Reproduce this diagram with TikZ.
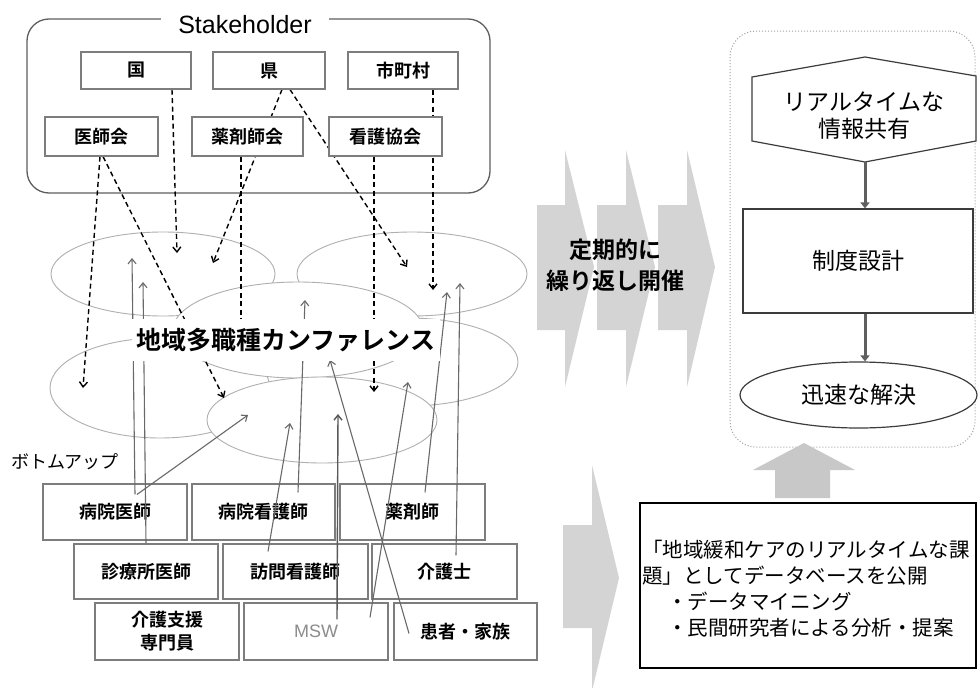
\documentclass[tikz,border=0pt]{standalone}
\usepackage{fontspec}
\setmainfont{Liberation Sans}
\newfontfamily\jp{Noto Sans CJK JP}[BoldFont={Noto Sans CJK JP Bold}]
\usetikzlibrary{arrows.meta,shapes.geometric}
\pgfdeclarelayer{back}
\pgfdeclarelayer{lines}
\pgfsetlayers{back,lines,main}
\definecolor{boxgray}{RGB}{125,125,125}
\definecolor{framegray}{RGB}{95,95,95}
\definecolor{ellgray}{RGB}{175,175,175}
\definecolor{arrgray}{RGB}{105,105,105}
\definecolor{chevgray}{RGB}{212,212,212}
\definecolor{upgray}{RGB}{200,200,200}
\definecolor{flowgray}{RGB}{60,60,60}
\definecolor{flowarrow}{RGB}{95,95,95}
\definecolor{dotgray}{RGB}{160,160,160}
\definecolor{mswgray}{RGB}{140,140,140}
\tikzset{
  sbox/.style={draw=boxgray, line width=1.1pt, fill=white, inner sep=0pt,
    font=\jp\bfseries\fontsize{18}{20}\selectfont},
  bbox/.style={draw=boxgray, line width=1.1pt, fill=white, inner sep=0pt, align=center,
    minimum width=144pt, font=\jp\bfseries\fontsize{18}{23}\selectfont},
  ell/.style={ellipse, draw=ellgray, line width=0.9pt, fill=white, inner sep=0pt},
  dasharr/.style={black, line width=1.4pt, dash pattern=on 5pt off 3.5pt,
    -{Straight Barb[length=5pt,width=8pt]}},
  uparr/.style={draw=arrgray, line width=1.1pt, -{Straight Barb[length=5pt,width=8pt]}},
  flow/.style={draw=flowgray, line width=1.2pt, fill=white, inner sep=0pt},
  flowtext/.style={font=\jp\fontsize{23}{27}\selectfont, align=center},
  flowarr/.style={draw=flowarrow, fill=flowarrow, line width=3pt, -{Triangle[length=6pt,width=9pt]}},
  chevron/.style={fill=chevgray},
}
\begin{document}
\begin{tikzpicture}[x=1pt,y=-1pt]
\useasboundingbox (0,0) rectangle (978,688);

% ---------- back layer: frame, ellipses, bottom boxes ----------
\begin{pgfonlayer}{back}
\fill[white] (0,0) rectangle (978,688);
\node[draw=framegray, line width=1.3pt, rounded corners=22pt, minimum width=463pt,
      minimum height=174pt, inner sep=0pt] (stake) at (258.5,106) {};
\node[ell, minimum width=224pt, minimum height=84pt] (eA) at (163,274) {};
\node[ell, minimum width=230pt, minimum height=84pt] (eB) at (412,274) {};
\node[ell, minimum width=220pt, minimum height=100pt] (eD) at (160,388) {};
\node[ell, minimum width=220pt, minimum height=88pt] (eE) at (408,362) {};
\node[ell, minimum width=250pt, minimum height=96pt] (eC) at (298,330) {};
\node[ell, minimum width=230pt, minimum height=86pt] (eF) at (322,420) {};

\node[bbox, minimum height=56pt] (byoi) at (115,512) {病院医師};
\node[bbox, minimum height=56pt, minimum width=143pt] (byokan) at (263.5,512) {病院看護師};
\node[bbox, minimum height=56pt, minimum width=145pt] (yakuzai) at (412.5,512) {薬剤師};
\node[bbox, minimum height=55pt] (shinryo) at (146,571.5) {診療所医師};
\node[bbox, minimum height=55pt, minimum width=145pt] (houmon) at (295.5,571.5) {訪問看護師};
\node[bbox, minimum height=55pt, minimum width=145pt] (kaigo) at (444.5,571.5) {介護士};
\node[bbox, minimum height=57pt] (shien) at (167,631.5) {介護支援\\専門員};
\node[bbox, minimum height=57pt, text=mswgray, font=\fontsize{18}{20}\selectfont] (msw) at (316,631.5) {MSW};
\node[bbox, minimum height=57pt, minimum width=143pt] (kanja) at (465.5,631.5) {患者・家族};
\end{pgfonlayer}

% ---------- main layer: stakeholder boxes, labels ----------
\node[sbox, minimum width=110pt, minimum height=37pt] (kuni) at (136,70.5) {国};
\node[sbox, minimum width=112pt, minimum height=37pt] (ken) at (269,70.5) {県};
\node[sbox, minimum width=110pt, minimum height=37pt] (shi) at (403,70.5) {市町村};
\node[sbox, minimum width=113pt, minimum height=39pt] (ishi) at (101.5,136.5) {医師会};
\node[sbox, minimum width=111pt, minimum height=39pt] (yaku) at (247.5,136.5) {薬剤師会};
\node[sbox, minimum width=113pt, minimum height=39pt] (kango) at (385.5,136.5) {看護協会};
\node[fill=white, inner xsep=17pt, inner ysep=2pt, font=\fontsize{25}{28}\selectfont] (sh) at (245,25) {Stakeholder};

\node[fill=white, inner xsep=5pt, inner ysep=0pt, minimum height=42pt,
      font=\jp\bfseries\fontsize{25}{28}\selectfont] (conf) at (286,340) {地域多職種カンファレンス};
\node[font=\jp\fontsize{18}{20}\selectfont, inner sep=0pt] (bottomup) at (65,462) {ボトムアップ};

% arrow tip coordinates inside the ellipses
\coordinate (tD)  at (83,388);
\coordinate (tF1) at (224,398);
\coordinate (tA1) at (177,253);
\coordinate (tA2) at (213,263);
\coordinate (tC1) at (241,338);
\coordinate (tB1) at (407,267);
\coordinate (tE1) at (374,392);
\coordinate (tB2) at (433,290);
\coordinate (tA3) at (132,258);
\coordinate (tA4) at (143,282);
\coordinate (tF2) at (248,415);
\coordinate (tC2) at (305,300);
\coordinate (tF3) at (290,423);
\coordinate (tF4) at (338,414);
\coordinate (tE2) at (408,382);
\coordinate (tC3) at (330,360);
\coordinate (tB3) at (447,292);
\coordinate (tB4) at (460,283);

% ---------- lines layer ----------
\begin{pgfonlayer}{lines}
% top-down (dashed)
\draw[dasharr] ([xshift=-1.5pt]ishi.south) -- (tD);
\draw[dasharr] ([xshift=1.5pt]ishi.south) -- (tF1);
\draw[dasharr] ([xshift=36pt]kuni.south) -- (tA1);
\draw[dasharr] ([xshift=13pt]ken.south) -- (tA2);
\draw[dasharr] ([xshift=-6.5pt]yaku.south) -- (tC1);
\draw[dasharr] ([xshift=21pt]ken.south) -- (tB1);
\draw[dasharr] ([xshift=-11.5pt]kango.south) -- (tE1);
\draw[dasharr] ([xshift=30pt]shi.south) -- (tB2);
% bottom-up (solid)
\draw[uparr] ([xshift=20pt,yshift=-11pt]byoi.north) -- (tA3);
\draw[uparr] (shinryo.north) -- (tA4);
\draw[uparr] ([xshift=22pt,yshift=-11pt]byoi.north) -- (tF2);
\draw[uparr] ([xshift=34.5pt,yshift=-9pt]byokan.north) -- (tC2);
\draw[uparr] ([xshift=-27.5pt,yshift=-8pt]houmon.north) -- (tF3);
\draw[uparr, line width=1.4pt, draw=arrgray!85!black] ([xshift=21pt,yshift=-17pt]msw.north) -- (tF4);
\draw[uparr] ([xshift=54pt,yshift=-15pt]msw.north) -- (tE2);
\draw[uparr] ([xshift=-56.5pt,yshift=-31pt]kanja.north) -- (tC3);
\draw[uparr] ([xshift=12.5pt,yshift=-9pt]yakuzai.north) -- (tB3);
\draw[uparr] ([xshift=11.5pt,yshift=-12pt]kaigo.north) -- (tB4);
\end{pgfonlayer}

% ---------- right side ----------
\fill[chevron] (537,205) -- (565,205) -- (565,150) -- (594,267) -- (565,387) -- (565,330) -- (537,330) -- cycle;
\fill[chevron] (597,205) -- (626,205) -- (626,150) -- (655,267) -- (626,387) -- (626,330) -- (597,330) -- cycle;
\fill[chevron] (658,205) -- (687,205) -- (687,150) -- (715,267) -- (687,387) -- (687,330) -- (658,330) -- cycle;
\node[font=\jp\bfseries\fontsize{23}{31}\selectfont, align=center, inner sep=0pt] (teiki) at (615,265.5) {定期的に\\繰り返し開催};

\node[draw=dotgray, dotted, line width=1pt, rounded corners=26pt, minimum width=245pt,
      minimum height=416pt, inner sep=0pt] (panel) at (852.5,239) {};

\draw[flow] (752,77) -- (865,57) -- (976,76) -- (976,141) -- (865,162) -- (752,141) -- cycle;
\coordinate (hexbot) at (865,162);
\node[flowtext, inner sep=0pt] (hexT) at (864,116) {リアルタイムな\\情報共有};

\node[flow, flowtext, minimum width=230pt, minimum height=104pt] (seido) at (858,261) {\raisebox{-6pt}{制度設計}};
\node[flow, flowtext, ellipse, minimum width=237pt, minimum height=66pt] (kaiketsu) at (858.5,395) {迅速な解決};

\draw[flowarr] (hexbot) -- (hexbot |- seido.north);
\draw[flowarr] ([xshift=7pt]seido.south) -- ([xshift=7pt]seido.south |- kaiketsu.north);

\fill[upgray] (775,498) -- (775,470) -- (753,470) -- (804,443) -- (855,470) -- (830,470) -- (830,498) -- cycle;

\fill[chevron] (563,525) -- (592,525) -- (592,465) -- (619,578) -- (592,691) -- (592,628) -- (563,628) -- cycle;

\node[draw=black, line width=1.8pt, minimum width=336pt, minimum height=165pt, inner sep=0pt] (dbbox) at (808,585.5) {};
\node[anchor=west, align=left, inner sep=0pt, font=\jp\fontsize{20.5}{26}\selectfont] (dbtext) at (642,589)
  {「地域緩和ケアのリアルタイムな課\\題」としてデータベースを公開\\\hspace*{25pt}・データマイニング\\\hspace*{25pt}・民間研究者による分析・提案};
\end{tikzpicture}
\end{document}
